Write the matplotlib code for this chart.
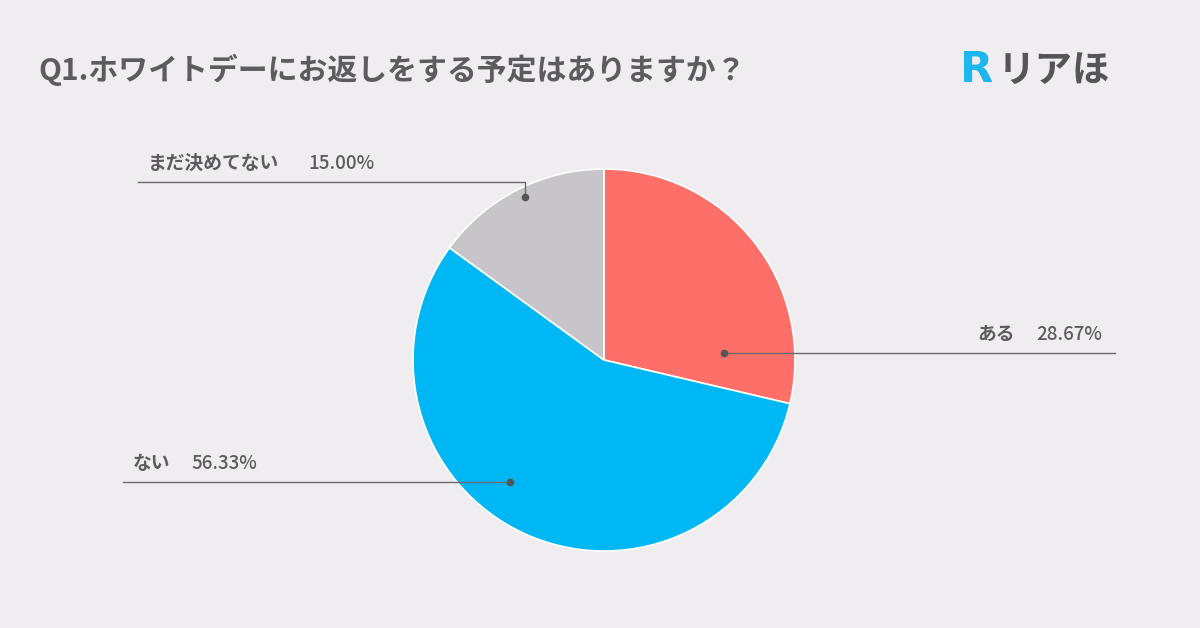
import matplotlib
matplotlib.use("Agg")
import matplotlib.pyplot as plt

plt.rcParams['font.family'] = ['Noto Sans CJK JP', 'DejaVu Sans']

labels = ['ある', 'ない', 'まだ決めてない']
values = [28.67, 56.33, 15.00]
colors = ['#ff6f69', '#00b7f5', '#c7c5c9']

bg = '#efedf0'
txt = '#5c5c5e'

fig = plt.figure(figsize=(12, 6.28), dpi=100)
fig.patch.set_facecolor(bg)
ax = fig.add_axes([0, 0, 1, 1])

H = 628
cx, cy, r = 604, H - 360, 191
ax.pie(values, colors=colors, startangle=90, counterclock=False,
       center=(cx, cy), radius=r, frame=True,
       wedgeprops=dict(edgecolor='white', linewidth=1.2))
ax.set_xlim(0, 1200)
ax.set_ylim(0, 628)
ax.set_aspect('equal')
ax.axis('off')

line_c = '#6b6b6e'
# callouts: (dot x, dot y, elbow y, line end x, label x, percent x)
callouts = [
    (724, 353, 353, 1115, 977, 1036),
    (510, 482, 482, 123, 133, 191),
    (525, 197, 182, 138, 148, 308),
]
for (lab, val), (dx, dy, ey, ex, lx, px) in zip(zip(labels, values), callouts):
    ax.plot([dx, dx, ex], [H - dy, H - ey, H - ey], color=line_c, lw=1.0)
    ax.plot(dx, H - dy, 'o', color='#555558', ms=4.5)
    ax.text(lx, H - ey + 9, lab, ha='left', va='bottom',
            fontsize=13.5, fontweight='bold', color=txt)
    ax.text(px, H - ey + 9, f'{val:.2f}%', ha='left', va='bottom',
            fontsize=13.5, fontweight='medium', color=txt)

ax.text(38, H - 70, 'Q1.ホワイトデーにお返しをする予定はありますか？',
        fontsize=21.5, fontweight='bold', color=txt, va='center', ha='left')

# logo
ax.text(960, H - 70, 'R', fontsize=31, fontweight='heavy', color='#1db6ee',
        va='center', ha='left', family=['DejaVu Sans'])
ax.text(998, H - 70, 'リアほ', fontsize=27, fontweight='bold', color='#555558',
        va='center', ha='left')

fig.savefig('out.png', dpi=100, facecolor=bg)
